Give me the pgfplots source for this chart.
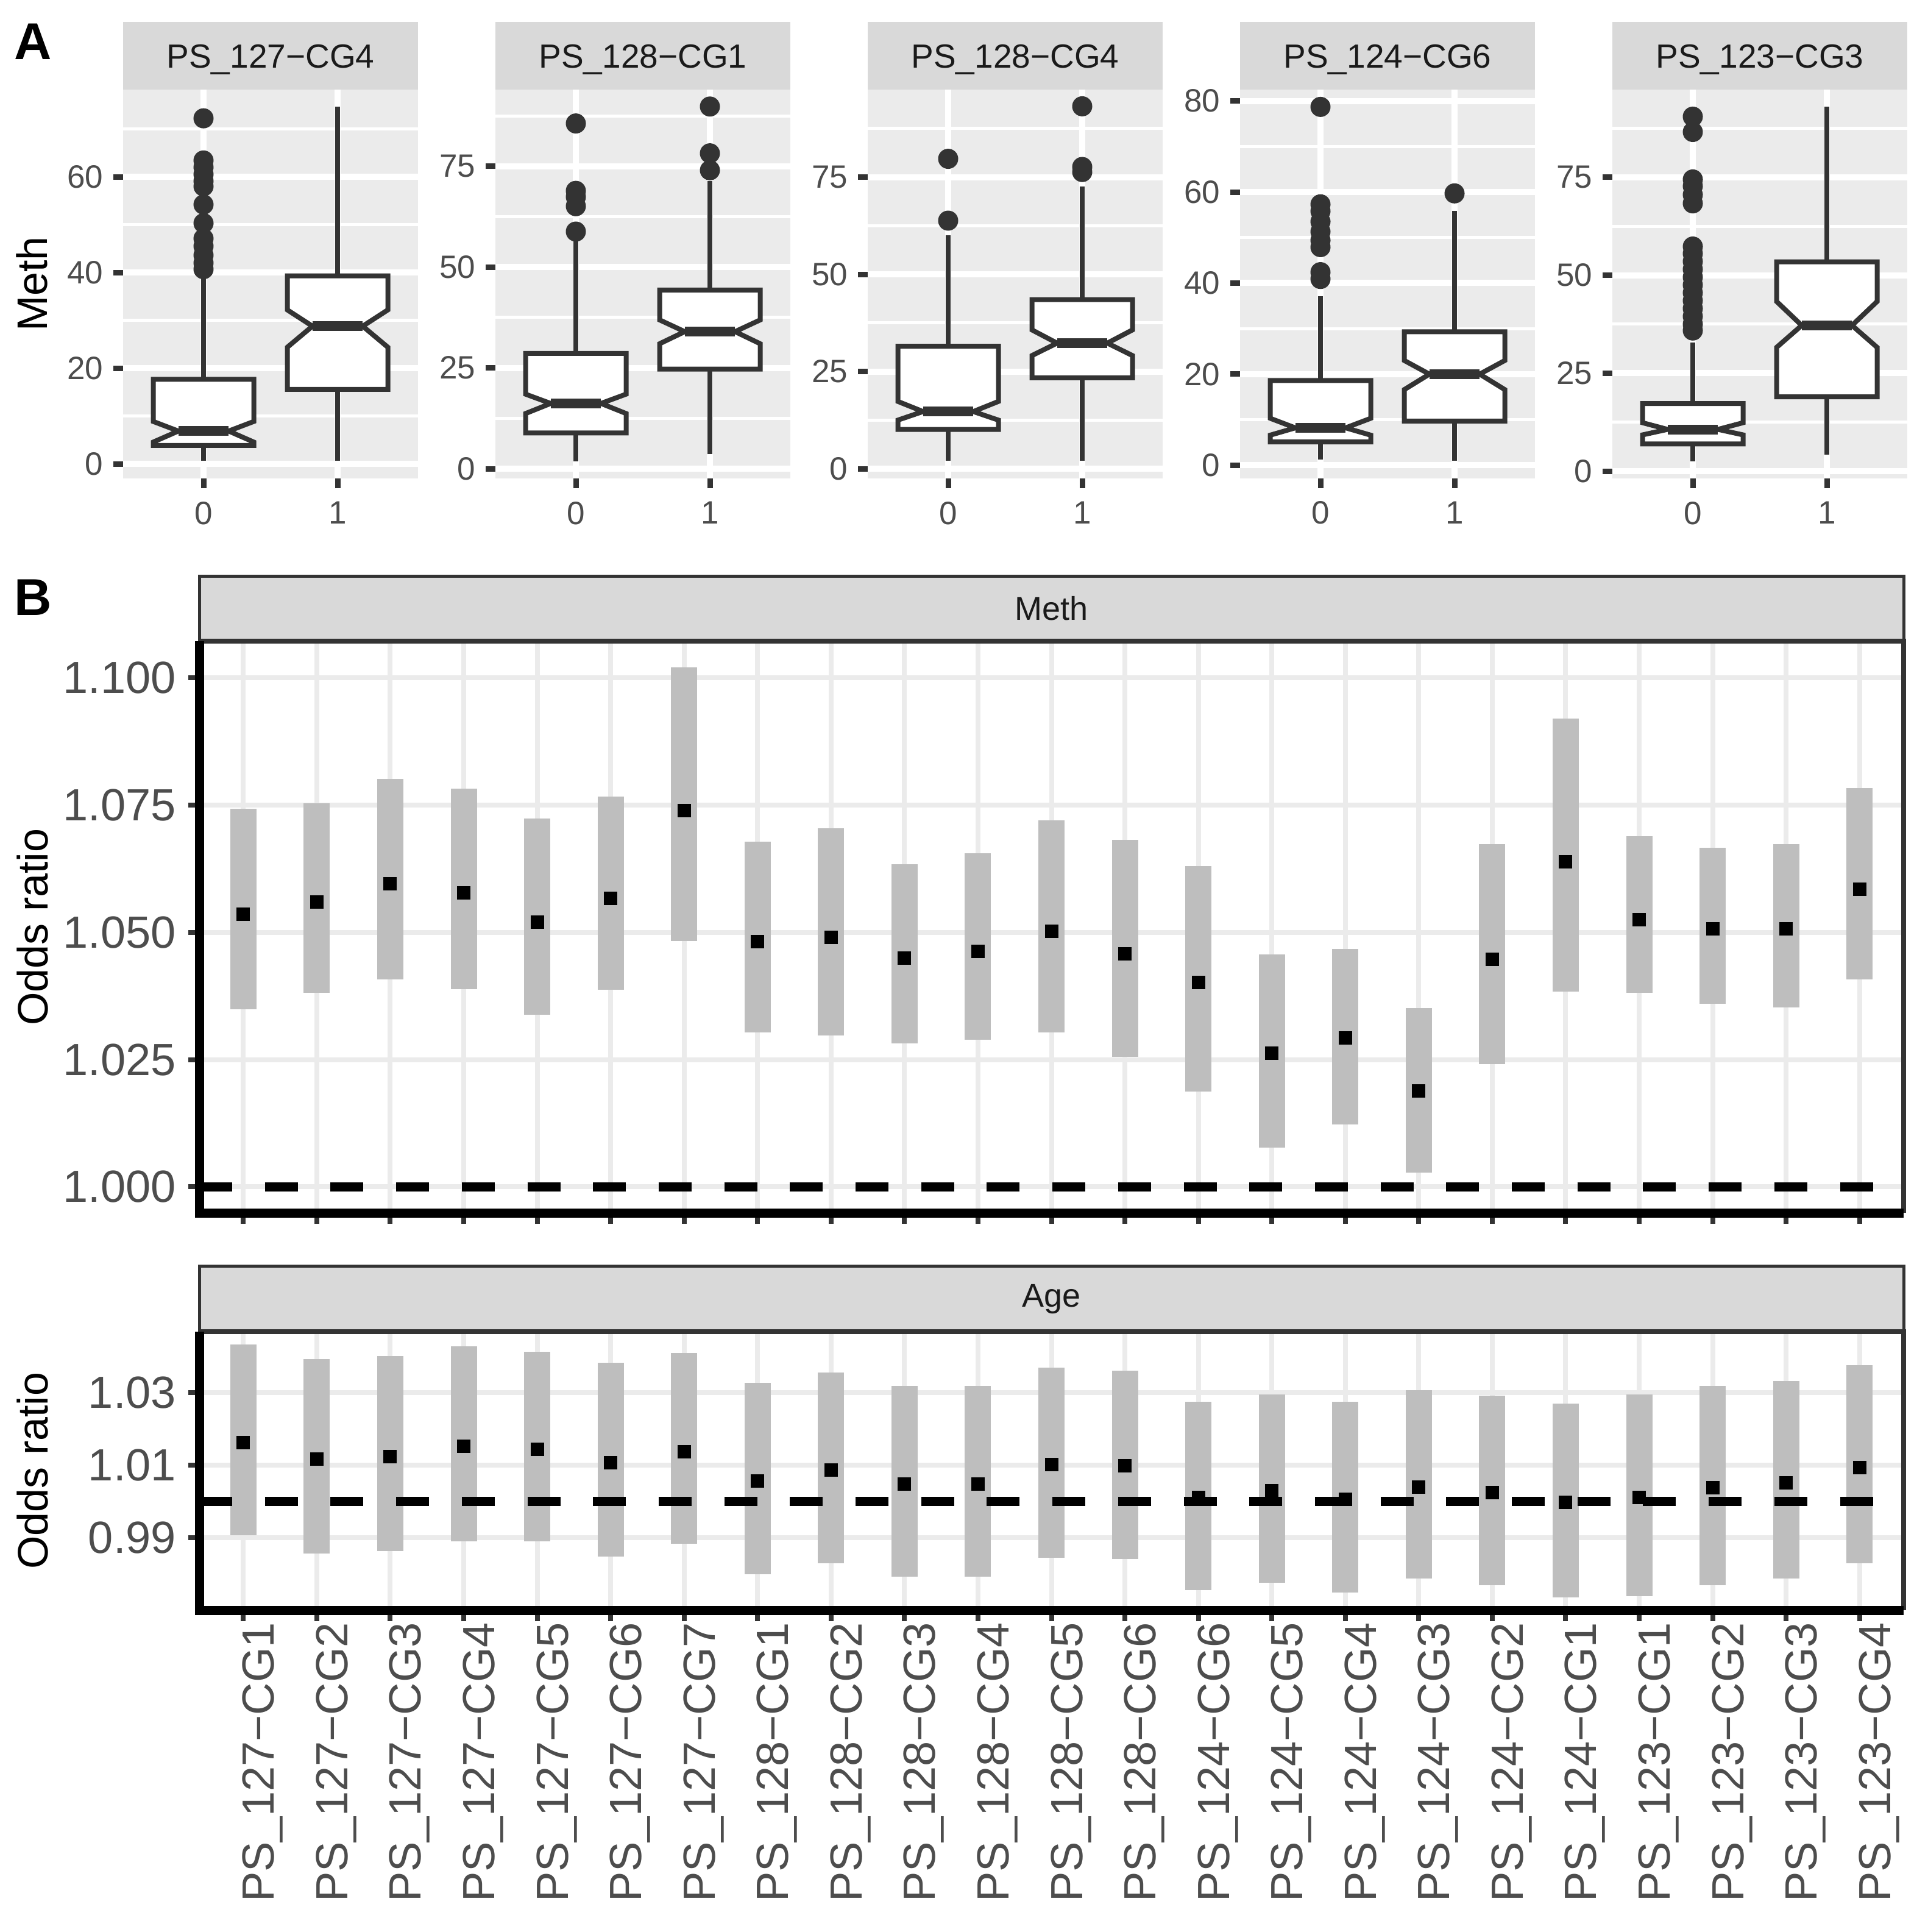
\documentclass[border=0pt]{standalone}
\usepackage{fontspec}
\setmainfont{Liberation Sans}
\usepackage{pgfplots}
\pgfplotsset{compat=1.18}
\usepackage{pgfplotstable}

\definecolor{grey92}{HTML}{EBEBEB}
\definecolor{grey85}{HTML}{D9D9D9}
\definecolor{grey20}{HTML}{333333}
\definecolor{grey30}{HTML}{4D4D4D}
\definecolor{grey10}{HTML}{1A1A1A}
\definecolor{ciGrey}{HTML}{BEBEBE}

\newcommand\fs[1]{\fontsize{#1}{#1}\selectfont}

% odds ratios, panel B: estimate, lower and upper limit
\pgfplotstableread{
x est lo hi
1 1.0536 1.0349 1.0743
2 1.0560 1.0381 1.0753
3 1.0596 1.0408 1.0802
4 1.0577 1.0389 1.0782
5 1.0520 1.0338 1.0724
6 1.0567 1.0387 1.0767
7 1.0739 1.0483 1.1021
8 1.0482 1.0303 1.0678
9 1.0490 1.0297 1.0705
10 1.0450 1.0282 1.0634
11 1.0463 1.0289 1.0655
12 1.0502 1.0303 1.0720
13 1.0458 1.0256 1.0682
14 1.0402 1.0187 1.0630
15 1.0263 1.0077 1.0457
16 1.0293 1.0123 1.0467
17 1.0189 1.0028 1.0351
18 1.0447 1.0241 1.0673
19 1.0639 1.0384 1.0920
20 1.0525 1.0381 1.0689
21 1.0507 1.0360 1.0666
22 1.0507 1.0352 1.0673
23 1.0585 1.0408 1.0784
}\meth

\pgfplotstableread{
x est lo hi
1 1.0163 0.9906 1.0434
2 1.0117 0.9855 1.0394
3 1.0123 0.9863 1.0402
4 1.0152 0.9890 1.0429
5 1.0144 0.9890 1.0414
6 1.0106 0.9848 1.0383
7 1.0137 0.9883 1.0410
8 1.0056 0.9798 1.0328
9 1.0086 0.9829 1.0356
10 1.0048 0.9791 1.0319
11 1.0048 0.9791 1.0319
12 1.0102 0.9844 1.0369
13 1.0098 0.9840 1.0362
14 1.0010 0.9754 1.0276
15 1.0029 0.9775 1.0295
16 1.0006 0.9748 1.0276
17 1.0040 0.9786 1.0307
18 1.0025 0.9768 1.0292
19 0.9998 0.9734 1.0271
20 1.0011 0.9737 1.0295
21 1.0037 0.9768 1.0319
22 1.0052 0.9786 1.0333
23 1.0094 0.9829 1.0377
}\age

% notched box: x, lower whisker, q1, notch low, median, notch high, q3, upper whisker
\newcommand\nbox[8]{%
  \pgfmathsetmacro\xl{#1-0.375}\pgfmathsetmacro\xr{#1+0.375}%
  \pgfmathsetmacro\ml{#1-0.1875}\pgfmathsetmacro\mr{#1+0.1875}%
  \addplot[whisk] coordinates {(#1,#2) (#1,#3)};
  \addplot[whisk] coordinates {(#1,#7) (#1,#8)};
  \addplot[boxst] coordinates {(\xl,#3) (\xl,#4) (\ml,#5) (\xl,#6) (\xl,#7)
    (\xr,#7) (\xr,#6) (\mr,#5) (\xr,#4) (\xr,#3)} -- cycle;
  \addplot[medst] coordinates {(\ml,#5) (\mr,#5)};
}

\pgfplotsset{
  whisk/.style={grey20, line width=0.8bp, forget plot},
  boxst/.style={draw=grey20, fill=white, line width=0.8bp, line join=miter, forget plot},
  medst/.style={grey20, line width=1.6bp, forget plot},
  outl/.style={only marks, mark=*, mark size=1.45bp, grey20, forget plot},
  cibar/.style={draw=none, mark=none, forget plot,
    error bars/.cd, y dir=both, y explicit, error mark=none,
    error bar style={draw=ciGrey, solid, line width=4.3bp}},
  refline/.style={black, line width=1.5bp, dash pattern=on 5.4bp off 5.37bp},
  facetA/.style={
    scale only axis, width=48.4bp, height=63.8bp, anchor=north west,
    xmin=0.4, xmax=2.6, xtick={1,2}, xticklabels={0,1},
    axis background/.style={fill=grey92},
    axis line style={draw=none},
    grid=both,
    major grid style={white, line width=1bp},
    minor grid style={white, line width=0.5bp},
    tick align=outside, major tick length=1.6bp, minor tick length=0pt,
    tick style={grey20, line width=0.9bp},
    xtick pos=left, ytick pos=left,
    /pgf/number format/assume math mode=true,
    every tick label/.append style={font=\fs{5.3bp}, text=grey30, inner sep=0pt},
    yticklabel style={xshift=-1.5bp},
    xticklabel style={yshift=-2bp},
  },
  facetB/.style={
    scale only axis, width=279.7bp, anchor=north west,
    xmin=0.4, xmax=23.6, xtick={1,...,23},
    axis line style={draw=none},
    grid=major, major grid style={grey92, line width=0.8bp},
    tick align=outside, major tick length=1.8bp,
    tick style={grey20, line width=0.8bp},
    xtick pos=left, ytick pos=left,
    /pgf/number format/assume math mode=true,
    every tick label/.append style={font=\fs{7.4bp}, text=grey30, inner sep=0pt},
    yticklabel style={xshift=-1.8bp},
  },
}

\newcommand\stripA[2]{%
  \fill[grey85] (#1bp,-3.6bp) rectangle ++(48.4bp,-11.1bp);
  \node[font=\fs{5.5bp}, text=grey10, inner sep=0pt, text height=3.9bp, text depth=0pt]
    at (#1bp+24.2bp,-9.15bp) {#2};
}

\begin{document}
\begin{tikzpicture}
\fill[white] (0,0) rectangle (316.4bp,-317bp);
\useasboundingbox (0,0) rectangle (316.4bp,-317bp);

% ---------- panel A ----------
\stripA{20.2}{PS\_127−CG4}
\stripA{81.3}{PS\_128−CG1}
\stripA{142.4}{PS\_128−CG4}
\stripA{203.5}{PS\_124−CG6}
\stripA{264.6}{PS\_123−CG3}

\begin{axis}[facetA, at={(20.2bp,-14.7bp)}, ymin=-3.0, ymax=78.2,
  ytick={0,20,40,60}, minor ytick={10,30,50,70}]
\nbox{1}{0.7}{3.9}{4.6}{6.9}{8.9}{17.7}{39.0}
\nbox{2}{0.7}{15.6}{24.4}{28.8}{32.2}{39.3}{74.7}
\addplot[outl] coordinates {(1,40.7) (1,42.0) (1,43.6) (1,45.5) (1,47.1) (1,50.3)
  (1,54.2) (1,58.0) (1,59.1) (1,60.5) (1,62.0) (1,63.4) (1,72.2)};
\end{axis}

\begin{axis}[facetA, at={(81.3bp,-14.7bp)}, ymin=-2.4, ymax=94.0,
  ytick={0,25,50,75}, minor ytick={12.5,37.5,62.5,87.5}]
\nbox{1}{1.9}{8.9}{13.7}{16.2}{18.5}{28.6}{57.1}
\nbox{2}{3.6}{24.7}{31.0}{34.0}{36.9}{44.3}{71.4}
\addplot[outl] coordinates {(1,58.8) (1,65.1) (1,67.4) (1,68.9) (1,85.6)
  (2,74.0) (2,78.2) (2,89.8)};
\end{axis}

\begin{axis}[facetA, at={(142.4bp,-14.7bp)}, ymin=-2.5, ymax=97.5,
  ytick={0,25,50,75}, minor ytick={12.5,37.5,62.5,87.5}]
\nbox{1}{2.0}{10.1}{12.5}{14.7}{17.3}{31.5}{60.1}
\nbox{2}{2.0}{23.4}{29.1}{32.3}{35.7}{43.5}{72.6}
\addplot[outl] coordinates {(1,63.8) (1,79.7) (2,76.3) (2,77.6) (2,93.2)};
\end{axis}

\begin{axis}[facetA, at={(203.5bp,-14.7bp)}, ymin=-2.9, ymax=82.5,
  ytick={0,20,40,60,80}, minor ytick={10,30,50,70}]
\nbox{1}{1.3}{5.1}{6.6}{8.2}{10.3}{18.6}{37.1}
\nbox{2}{1.0}{9.7}{16.6}{20.0}{23.0}{29.3}{55.8}
\addplot[outl] coordinates {(1,40.9) (1,42.4) (1,47.9) (1,49.4) (1,51.3) (1,53.5)
  (1,55.8) (1,57.3) (1,78.7) (2,59.7)};
\end{axis}

\begin{axis}[facetA, at={(264.6bp,-14.7bp)}, ymin=-1.8, ymax=97.3,
  ytick={0,25,50,75}, minor ytick={12.5,37.5,62.5,87.5}]
\nbox{1}{2.6}{7.0}{9.3}{10.7}{12.4}{17.3}{32.8}
\nbox{2}{4.3}{19.0}{31.6}{37.2}{43.3}{53.4}{93.0}
\addplot[outl] coordinates {(1,35.9) (1,37.5) (1,39.5) (1,41.5) (1,43.5) (1,45.5)
  (1,47.5) (1,49.5) (1,51.5) (1,53.5) (1,55.5) (1,57.3) (1,68.3) (1,70.5)
  (1,72.7) (1,74.4) (1,86.5) (1,90.4)};
\end{axis}

\node[font=\fs{7bp}, rotate=90, inner sep=0pt] at (5.2bp,-46.6bp) {Meth};
\node[font=\bfseries\fs{8.5bp}, inner sep=0pt] at (5.4bp,-6.8bp) {A};

% ---------- panel B ----------
\node[font=\bfseries\fs{8.5bp}, inner sep=0pt] at (5.4bp,-98.0bp) {B};

\draw[fill=grey85, draw=grey20, line width=0.5bp] (32.7bp,-94.5bp) rectangle (312.4bp,-105.2bp);
\node[font=\fs{5.4bp}, text=grey10, inner sep=0pt] at (172.55bp,-99.85bp) {Meth};

\begin{axis}[facetB, name=m, at={(32.7bp,-105.2bp)}, height=93.8bp,
  ymin=0.9949, ymax=1.1072,
  ytick={1,1.025,1.05,1.075,1.1}, yticklabels={1.000,1.025,1.050,1.075,1.100},
  xticklabels={}]
\addplot[cibar]
  table[x=x, y=est, y error plus expr=\thisrow{hi}-\thisrow{est},
        y error minus expr=\thisrow{est}-\thisrow{lo}] {\meth};
\addplot[refline] coordinates {(0.4,1) (23.6,1)};
\addplot[only marks, mark=square*, mark size=1bp, black, mark options={solid, line width=0.2bp}]
  table[x=x, y=est] {\meth};
\end{axis}
\draw[grey20, line width=0.8bp] (m.north west) -- (m.north east) -- (m.south east);
\draw[black, line width=1.5bp] (m.north west) -- (m.south west) -- (m.south east);
\node[font=\fs{7bp}, rotate=90, inner sep=0pt] at (5.3bp,-152.1bp) {Odds ratio};

\draw[fill=grey85, draw=grey20, line width=0.5bp] (32.7bp,-207.7bp) rectangle (312.4bp,-218.5bp);
\node[font=\fs{5.4bp}, text=grey10, inner sep=0pt] at (172.55bp,-213.1bp) {Age};

\begin{axis}[facetB, name=g, at={(32.7bp,-218.5bp)}, height=45.7bp,
  ymin=0.9699, ymax=1.0469,
  ytick={0.99,1.01,1.03}, yticklabels={0.99,1.01,1.03},
  xticklabels={PS\_127−CG1,PS\_127−CG2,PS\_127−CG3,PS\_127−CG4,PS\_127−CG5,PS\_127−CG6,
    PS\_127−CG7,PS\_128−CG1,PS\_128−CG2,PS\_128−CG3,PS\_128−CG4,PS\_128−CG5,PS\_128−CG6,
    PS\_124−CG6,PS\_124−CG5,PS\_124−CG4,PS\_124−CG3,PS\_124−CG2,PS\_124−CG1,
    PS\_123−CG1,PS\_123−CG2,PS\_123−CG3,PS\_123−CG4},
  xticklabel style={rotate=90, anchor=east, text height=5.3bp, text depth=0pt, yshift=-2.4bp}]
\addplot[cibar]
  table[x=x, y=est, y error plus expr=\thisrow{hi}-\thisrow{est},
        y error minus expr=\thisrow{est}-\thisrow{lo}] {\age};
\addplot[refline] coordinates {(0.4,1) (23.6,1)};
\addplot[only marks, mark=square*, mark size=1bp, black, mark options={solid, line width=0.2bp}]
  table[x=x, y=est] {\age};
\end{axis}
\draw[grey20, line width=0.8bp] (g.north west) -- (g.north east) -- (g.south east);
\draw[black, line width=1.5bp] (g.north west) -- (g.south west) -- (g.south east);
\node[font=\fs{7bp}, rotate=90, inner sep=0pt] at (5.3bp,-241.3bp) {Odds ratio};
\end{tikzpicture}
\end{document}
